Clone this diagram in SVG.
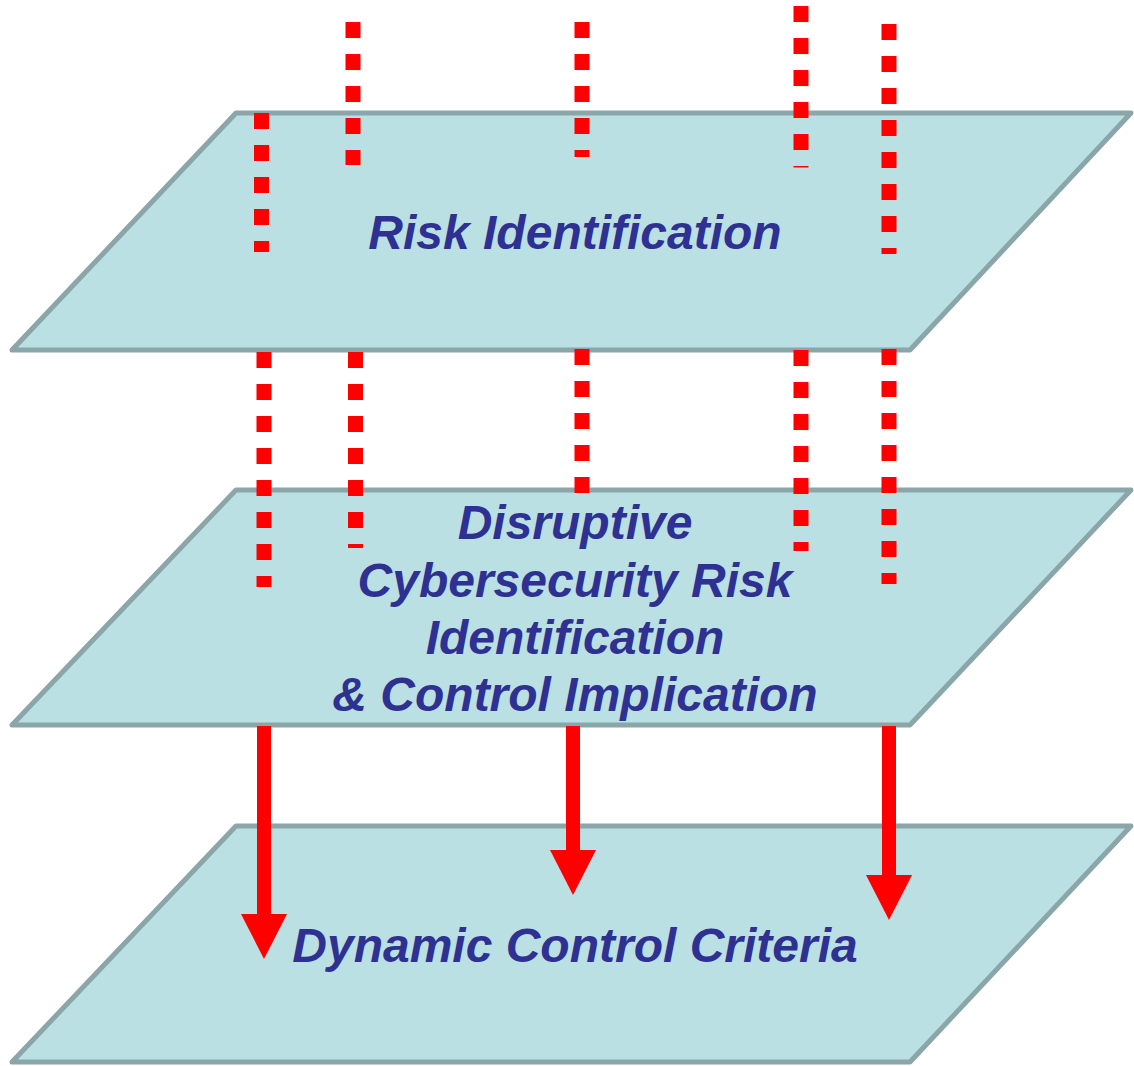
<svg xmlns="http://www.w3.org/2000/svg" width="1134" height="1066" viewBox="0 0 1134 1066">
<defs>
<style>
.plane{fill:#BAE0E3;stroke:#8AA6A8;stroke-width:5;stroke-linejoin:round}
.lbl{font-family:"Liberation Sans",Arial,sans-serif;font-weight:bold;font-style:italic;font-size:48px;fill:#2E3192;text-anchor:middle}
.dash{stroke:#FF0000;stroke-width:15;stroke-dasharray:16 16;fill:none}
.arrow{stroke:#FF0000;stroke-width:14;fill:none;marker-end:url(#ah)}
</style>
<marker id="ah" markerUnits="userSpaceOnUse" viewBox="0 0 45 46" refX="0" refY="23" markerWidth="45" markerHeight="46" orient="auto">
<path d="M0,0 L45,23 L0,46 Z" fill="#FF0000"/>
</marker>
</defs>
<rect width="1134" height="1066" fill="#FFFFFF"/>
<g id="risk-identification">
<polygon class="plane" points="236,113 1131,113 910,350 12,350"/>
<text class="lbl" x="575" y="249">Risk Identification</text>
</g>
<g id="disruptive-risk">
<polygon class="plane" points="236,490 1131,490 910,725 12,725"/>
<text class="lbl" x="575" y="539">Disruptive</text>
<text class="lbl" x="575" y="597">Cybersecurity Risk</text>
<text class="lbl" x="575" y="654">Identification</text>
<text class="lbl" x="575" y="711">&amp; Control Implication</text>
</g>
<g id="dynamic-control">
<polygon class="plane" points="236,826 1131,826 910,1062 12,1062"/>
<text class="lbl" x="575" y="962">Dynamic Control Criteria</text>
</g>
<g id="connectors">
<line class="dash" x1="261.5" y1="113" x2="261.5" y2="252"/>
<line class="dash" x1="353" y1="22" x2="353" y2="165"/>
<line class="dash" x1="582" y1="22" x2="582" y2="157"/>
<line class="dash" x1="801" y1="6" x2="801" y2="167.5"/>
<line class="dash" x1="889" y1="24" x2="889" y2="254"/>
<line class="dash" x1="264" y1="352" x2="264" y2="587"/>
<line class="dash" x1="355.5" y1="352" x2="355.5" y2="548"/>
<line class="dash" x1="582" y1="349" x2="582" y2="493"/>
<line class="dash" x1="801" y1="350" x2="801" y2="551"/>
<line class="dash" x1="889" y1="349" x2="889" y2="584"/>
<line class="arrow" x1="264" y1="726" x2="264" y2="914"/>
<line class="arrow" x1="573" y1="726" x2="573" y2="850"/>
<line class="arrow" x1="889" y1="726" x2="889" y2="875"/>
</g>
</svg>
